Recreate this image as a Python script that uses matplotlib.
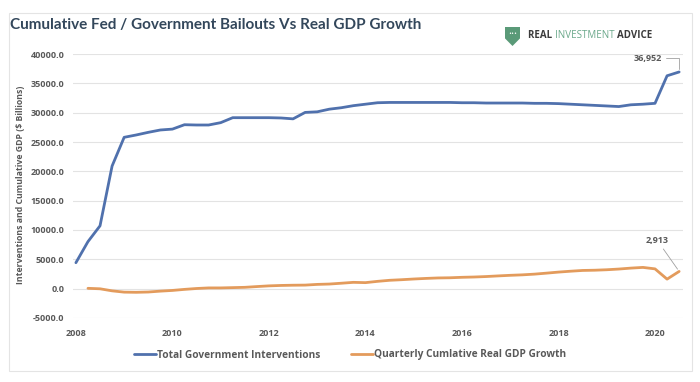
import numpy as np
import matplotlib
matplotlib.use("Agg")
import matplotlib.pyplot as plt
from matplotlib.patches import Rectangle, Polygon

# ---- data ----
title = "Cumulative Fed / Government Bailouts Vs Real GDP Growth"
ylabel = "Interventions and Cumulative GDP ($ Billions)"
series_names = ["Total Government Interventions", "Quarterly Cumlative Real GDP Growth"]

blue_start = 2008.0
blue_vals = [4400, 8000, 10700, 20900, 25800, 26200, 26650, 27050, 27200, 27950,
             27900, 27900, 28300, 29150, 29150, 29150, 29150, 29100, 28950, 30050,
             30150, 30600, 30850, 31200, 31450, 31700, 31750, 31750, 31750, 31750,
             31750, 31750, 31700, 31700, 31650, 31650, 31650, 31650, 31600, 31600,
             31550, 31450, 31350, 31250, 31150, 31050, 31350, 31450, 31600, 36300,
             36952]
orange_start = 2008.25
orange_vals = [30, -50, -400, -620, -650, -600, -450, -330, -150, 0,
               100, 100, 150, 200, 330, 450, 520, 560, 580, 700,
               760, 900, 1050, 1000, 1220, 1400, 1500, 1620, 1720, 1800,
               1830, 1910, 1960, 2040, 2150, 2250, 2330, 2450, 2620, 2800,
               2950, 3080, 3120, 3200, 3320, 3480, 3600, 3350, 1600, 2913]

x_ticks = [2008, 2010, 2012, 2014, 2016, 2018, 2020]
y_ticks = [-5000, 0, 5000, 10000, 15000, 20000, 25000, 30000, 35000, 40000]

blue_x = blue_start + 0.25 * np.arange(len(blue_vals))
orange_x = orange_start + 0.25 * np.arange(len(orange_vals))

BLUE = "#5071ad"
ORANGE = "#e39b5c"
TXT = "#595959"

fig = plt.figure(figsize=(7.0, 3.82), dpi=100)
fig.patch.set_facecolor("white")

# outer frame
fig.patches.append(Rectangle((9/700, 1-371/382), 683/700, 358/382, transform=fig.transFigure,
                             fill=False, edgecolor="#e4e4e4", linewidth=0.8))

ax = fig.add_axes([73/700, 1-317.8/382, 610/700, (317.8-54.1)/382])
ax.set_xlim(2007.94, 2020.58)
ax.set_ylim(-5000, 40000)
for s in ax.spines.values():
    s.set_visible(False)
ax.set_yticks(y_ticks)
ax.set_yticklabels([f"{v:.1f}" for v in y_ticks])
ax.set_xticks(x_ticks)
ax.set_xticklabels([str(v) for v in x_ticks])
ax.tick_params(length=0, labelsize=6.5, labelcolor=TXT, pad=6)
for lab in ax.get_xticklabels() + ax.get_yticklabels():
    lab.set_fontweight("bold")
    lab.set_family("Open Sans")
ax.tick_params(axis="x", pad=8)
ax.grid(axis="y", color="#e3e3e3", linewidth=0.8)
ax.set_axisbelow(True)

l1, = ax.plot(blue_x, blue_vals, color=BLUE, linewidth=2.0, solid_capstyle="round")
l2, = ax.plot(orange_x, orange_vals, color=ORANGE, linewidth=2.0, solid_capstyle="round")

# annotations
bx, by = blue_x[-1], blue_vals[-1]
ax.annotate(f"{by:,.0f}", xy=(bx, by), xytext=(bx - 0.35, by + 2300),
            ha="right", va="center", fontsize=6.5, color=TXT, fontweight="bold", family="Open Sans",
            arrowprops=dict(arrowstyle="-", color="#a0a0a0", lw=0.6,
                            connectionstyle="angle,angleA=0,angleB=90,rad=0",
                            shrinkA=1, shrinkB=2))
ox, oy = orange_x[-1], orange_vals[-1]
ax.annotate(f"{oy:,.0f}", xy=(ox, oy), xytext=(ox - 0.45, oy + 4500),
            ha="center", va="bottom", fontsize=6.5, color=TXT, fontweight="bold", family="Open Sans",
            arrowprops=dict(arrowstyle="-", color="#a0a0a0", lw=0.6, shrinkA=1, shrinkB=2))

fig.text(21/700, 1-185/382, ylabel, rotation=90, ha="center", va="center",
         fontsize=6.3, color=TXT, fontweight="bold", family="Open Sans")

fig.text(10/700, 1-25/382, title, ha="left", va="center", fontsize=11.0,
         color="#33475b", fontweight="bold", family="Lato")

# logo
sx, sy = 505/700, 1-27/382
w, h = 15/700, 19/382
shield = Polygon([(sx, sy), (sx + w, sy), (sx + w, sy - h*0.6), (sx + w/2, sy - h), (sx, sy - h*0.6)],
                 closed=True, transform=fig.transFigure, facecolor="#5a9a78", edgecolor="none")
fig.patches.append(shield)
fig.text(sx + w/2, sy - h*0.36, "•••", ha="center", va="center", fontsize=3.8, color="white")
lx, ly = 528/700, 1-36/382
t1 = fig.text(lx, ly, "REAL ", ha="left", va="center", fontsize=7.0, color="#3b3b3b",
              fontweight="bold", family="Open Sans")
fig.canvas.draw()
r = fig.canvas.get_renderer()
bb = t1.get_window_extent(r)
t2 = fig.text(bb.x1/700, ly, "INVESTMENT ", ha="left", va="center", fontsize=7.0, color="#6aa88a",
              family="Open Sans")
bb2 = t2.get_window_extent(r)
fig.text(bb2.x1/700, ly, "ADVICE", ha="left", va="center", fontsize=7.0, color="#3b3b3b",
         fontweight="bold", family="Open Sans")

leg = fig.legend([l1, l2], series_names, loc="center", bbox_to_anchor=(0.5, 1-355/382),
                 ncol=2, frameon=False, handlelength=2.2, handletextpad=0.1,
                 columnspacing=3.0, prop={"family": "Open Sans", "weight": "bold", "size": 7.3})
for t in leg.get_texts():
    t.set_color(TXT)

fig.savefig("out.png", dpi=100, facecolor="white")
